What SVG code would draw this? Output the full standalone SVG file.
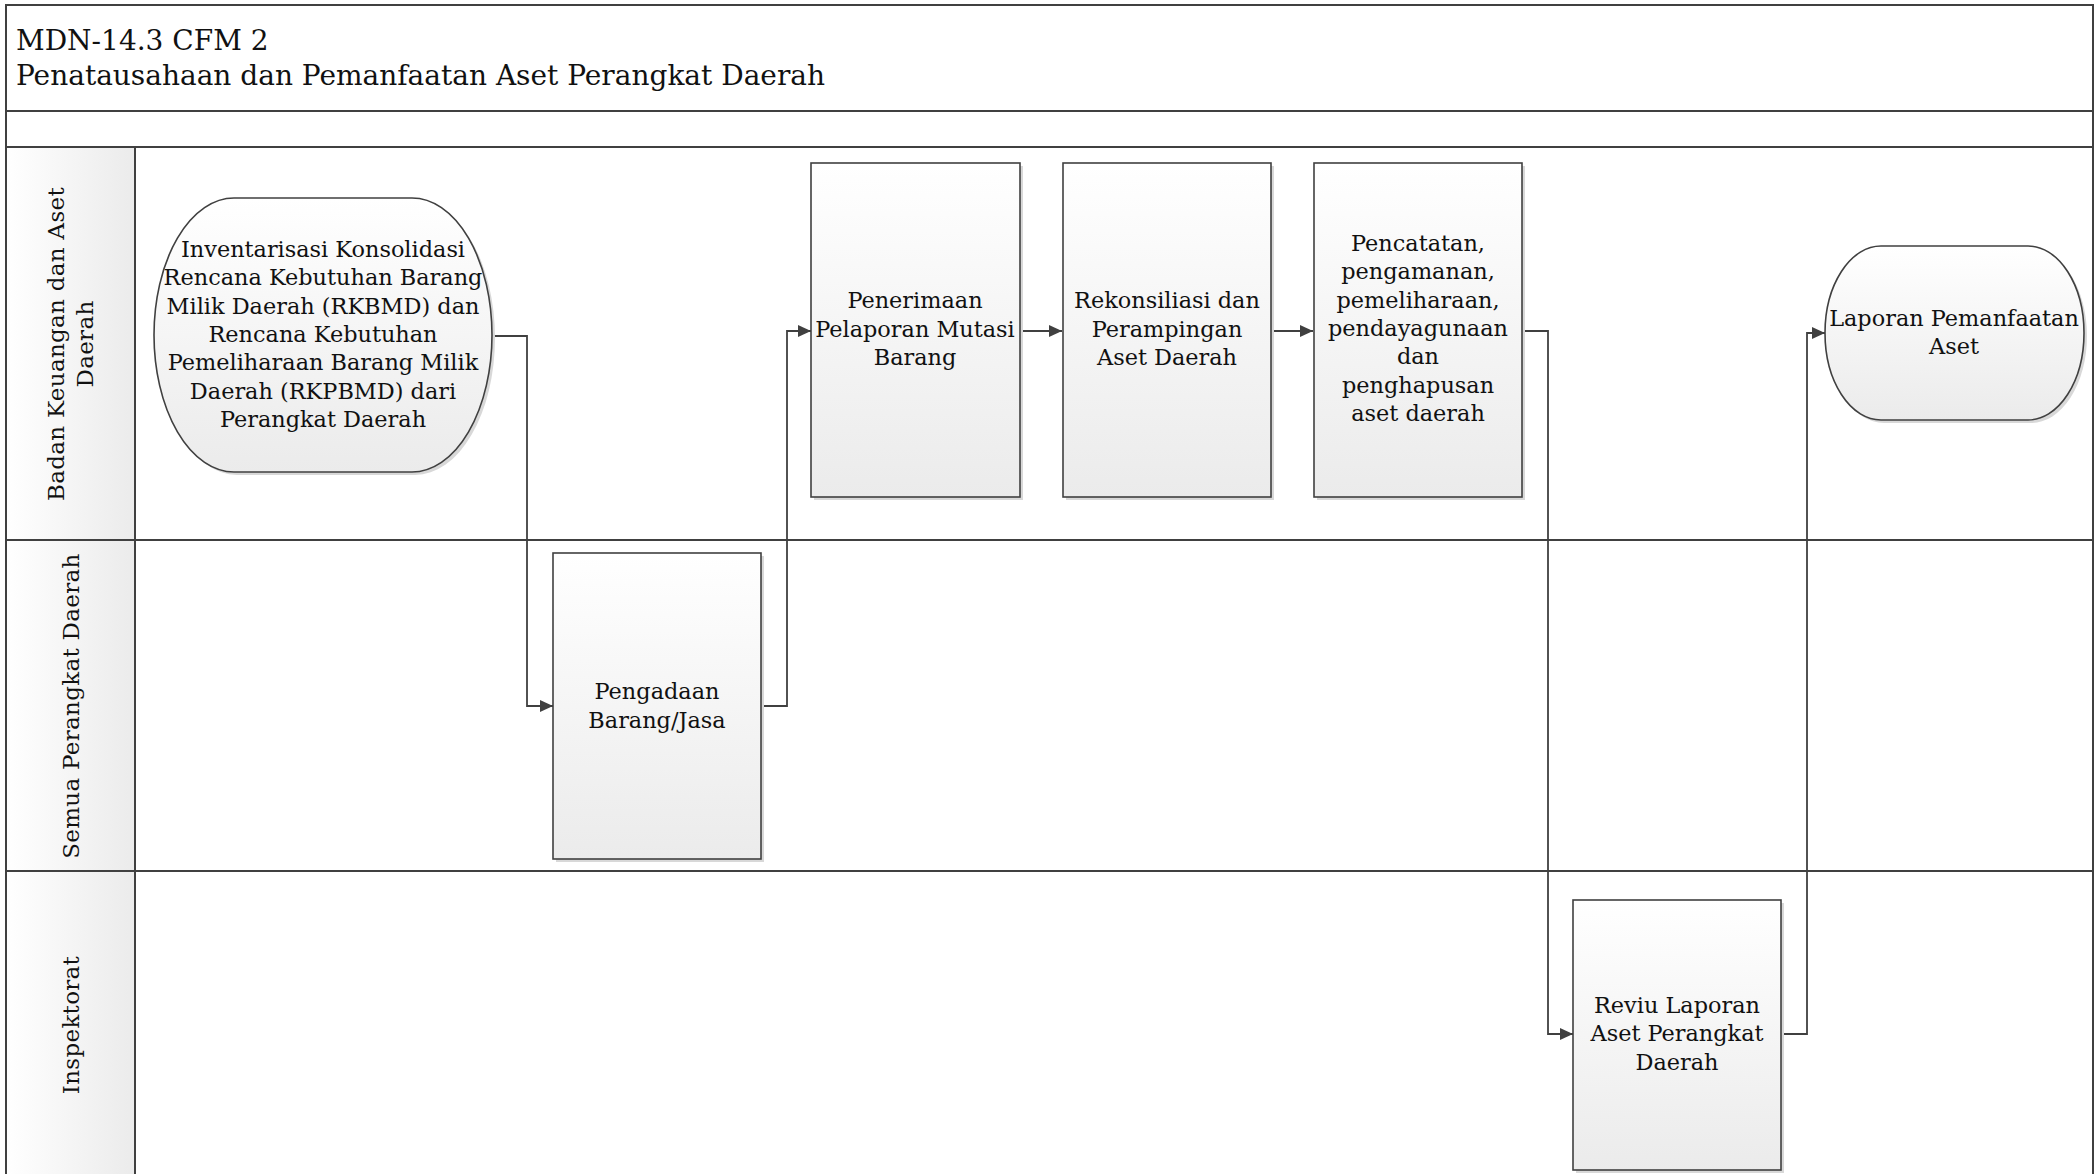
<svg xmlns="http://www.w3.org/2000/svg" width="2096" height="1174" viewBox="0 0 2096 1174">
<defs>
<linearGradient id="gv" x1="0" y1="0" x2="0" y2="1"><stop offset="0" stop-color="#ffffff"/><stop offset="1" stop-color="#ebebeb"/></linearGradient>
<linearGradient id="gh" x1="0" y1="0" x2="1" y2="0"><stop offset="0" stop-color="#ffffff"/><stop offset="1" stop-color="#ebebeb"/></linearGradient>
<marker id="ah" markerUnits="userSpaceOnUse" markerWidth="14" markerHeight="12" refX="13" refY="6" orient="auto"><path d="M0,0 L13,6 L0,12 Z" fill="#404040"/></marker>
</defs>
<style>
.frame{fill:none;stroke:#404040;stroke-width:2}
.node{fill:url(#gv);stroke:#404040;stroke-width:1.6}
.shadow{fill:#d8d8d8;stroke:none}
.t{font-family:"DejaVu Serif","Liberation Serif",serif;font-size:22.4px;fill:#111;text-anchor:middle}
.lane{font-family:"DejaVu Serif","Liberation Serif",serif;font-size:23px;fill:#111;text-anchor:middle;letter-spacing:0.3px}
.title{font-family:"DejaVu Serif","Liberation Serif",serif;font-size:28px;fill:#111}
.conn{fill:none;stroke:#404040;stroke-width:1.8;marker-end:url(#ah)}
</style>
<rect x="0" y="0" width="2096" height="1174" fill="#ffffff"/>
<g id="header">
<rect x="6" y="5" width="2087" height="106" fill="url(#gv)" class="frame"/>
<text class="title" x="16" y="50">MDN-14.3 CFM 2</text>
<text class="title" x="16" y="85">Penatausahaan dan Pemanfaatan Aset Perangkat Daerah</text>
<rect x="6" y="111" width="2087" height="36" fill="url(#gv)" class="frame"/>
</g>
<g id="lanes">
<rect x="6" y="147" width="129" height="1030" fill="url(#gh)"/>
<rect x="135" y="147" width="1958" height="1030" fill="#ffffff"/>
<path class="frame" d="M6,147 H2093 M6,147 V1176 M135,147 V1176 M2093,147 V1176 M6,540 H2093 M6,871 H2093"/>
<g id="lane-bka"><text class="lane" transform="translate(71,344) rotate(-90)"><tspan x="0" y="-7">Badan Keuangan dan Aset</tspan><tspan x="0" y="22">Daerah</tspan></text></g>
<g id="lane-spd"><text class="lane" transform="translate(71,706) rotate(-90)" x="0" y="8">Semua Perangkat Daerah</text></g>
<g id="lane-insp"><text class="lane" transform="translate(71,1025) rotate(-90)" x="0" y="8">Inspektorat</text></g>
</g>
<g id="connectors">
<path class="conn" d="M492,336 H527 V706 H553"/>
<path class="conn" d="M761,706 H787 V331 H811"/>
<path class="conn" d="M1020,331 H1062"/>
<path class="conn" d="M1271,331 H1313"/>
<path class="conn" d="M1522,331 H1548 V1034 H1573"/>
<path class="conn" d="M1782,1034 H1807 V333 H1825"/>
</g>
<g id="n-inventarisasi">
<rect class="shadow" x="157" y="201" width="338" height="274" rx="80" ry="137"/>
<rect class="node" x="154" y="198" width="338" height="274" rx="80" ry="137"/>
<text class="t"><tspan x="323" y="257">Inventarisasi Konsolidasi</tspan><tspan x="323" y="285">Rencana Kebutuhan Barang</tspan><tspan x="323" y="314">Milik Daerah (RKBMD) dan</tspan><tspan x="323" y="342">Rencana Kebutuhan</tspan><tspan x="323" y="370">Pemeliharaan Barang Milik</tspan><tspan x="323" y="399">Daerah (RKPBMD) dari</tspan><tspan x="323" y="427">Perangkat Daerah</tspan></text>
</g>
<g id="n-pengadaan">
<rect class="shadow" x="556" y="556" width="208" height="306"/>
<rect class="node" x="553" y="553" width="208" height="306"/>
<text class="t"><tspan x="657" y="699">Pengadaan</tspan><tspan x="657" y="728">Barang/Jasa</tspan></text>
</g>
<g id="n-penerimaan">
<rect class="shadow" x="814" y="166" width="209" height="334"/>
<rect class="node" x="811" y="163" width="209" height="334"/>
<text class="t"><tspan x="915" y="308">Penerimaan</tspan><tspan x="915" y="337">Pelaporan Mutasi</tspan><tspan x="915" y="365">Barang</tspan></text>
</g>
<g id="n-rekonsiliasi">
<rect class="shadow" x="1066" y="166" width="208" height="334"/>
<rect class="node" x="1063" y="163" width="208" height="334"/>
<text class="t"><tspan x="1167" y="308">Rekonsiliasi dan</tspan><tspan x="1167" y="337">Perampingan</tspan><tspan x="1167" y="365">Aset Daerah</tspan></text>
</g>
<g id="n-pencatatan">
<rect class="shadow" x="1317" y="166" width="208" height="334"/>
<rect class="node" x="1314" y="163" width="208" height="334"/>
<text class="t"><tspan x="1418" y="251">Pencatatan,</tspan><tspan x="1418" y="279">pengamanan,</tspan><tspan x="1418" y="308">pemeliharaan,</tspan><tspan x="1418" y="336">pendayagunaan</tspan><tspan x="1418" y="364">dan</tspan><tspan x="1418" y="393">penghapusan</tspan><tspan x="1418" y="421">aset daerah</tspan></text>
</g>
<g id="n-reviu">
<rect class="shadow" x="1576" y="903" width="208" height="270"/>
<rect class="node" x="1573" y="900" width="208" height="270"/>
<text class="t"><tspan x="1677" y="1013">Reviu Laporan</tspan><tspan x="1677" y="1041">Aset Perangkat</tspan><tspan x="1677" y="1070">Daerah</tspan></text>
</g>
<g id="n-laporan">
<rect class="shadow" x="1828" y="249" width="259" height="174" rx="56" ry="87"/>
<rect class="node" x="1825" y="246" width="259" height="174" rx="56" ry="87"/>
<text class="t"><tspan x="1954" y="326">Laporan Pemanfaatan</tspan><tspan x="1954" y="354">Aset</tspan></text>
</g>
</svg>
